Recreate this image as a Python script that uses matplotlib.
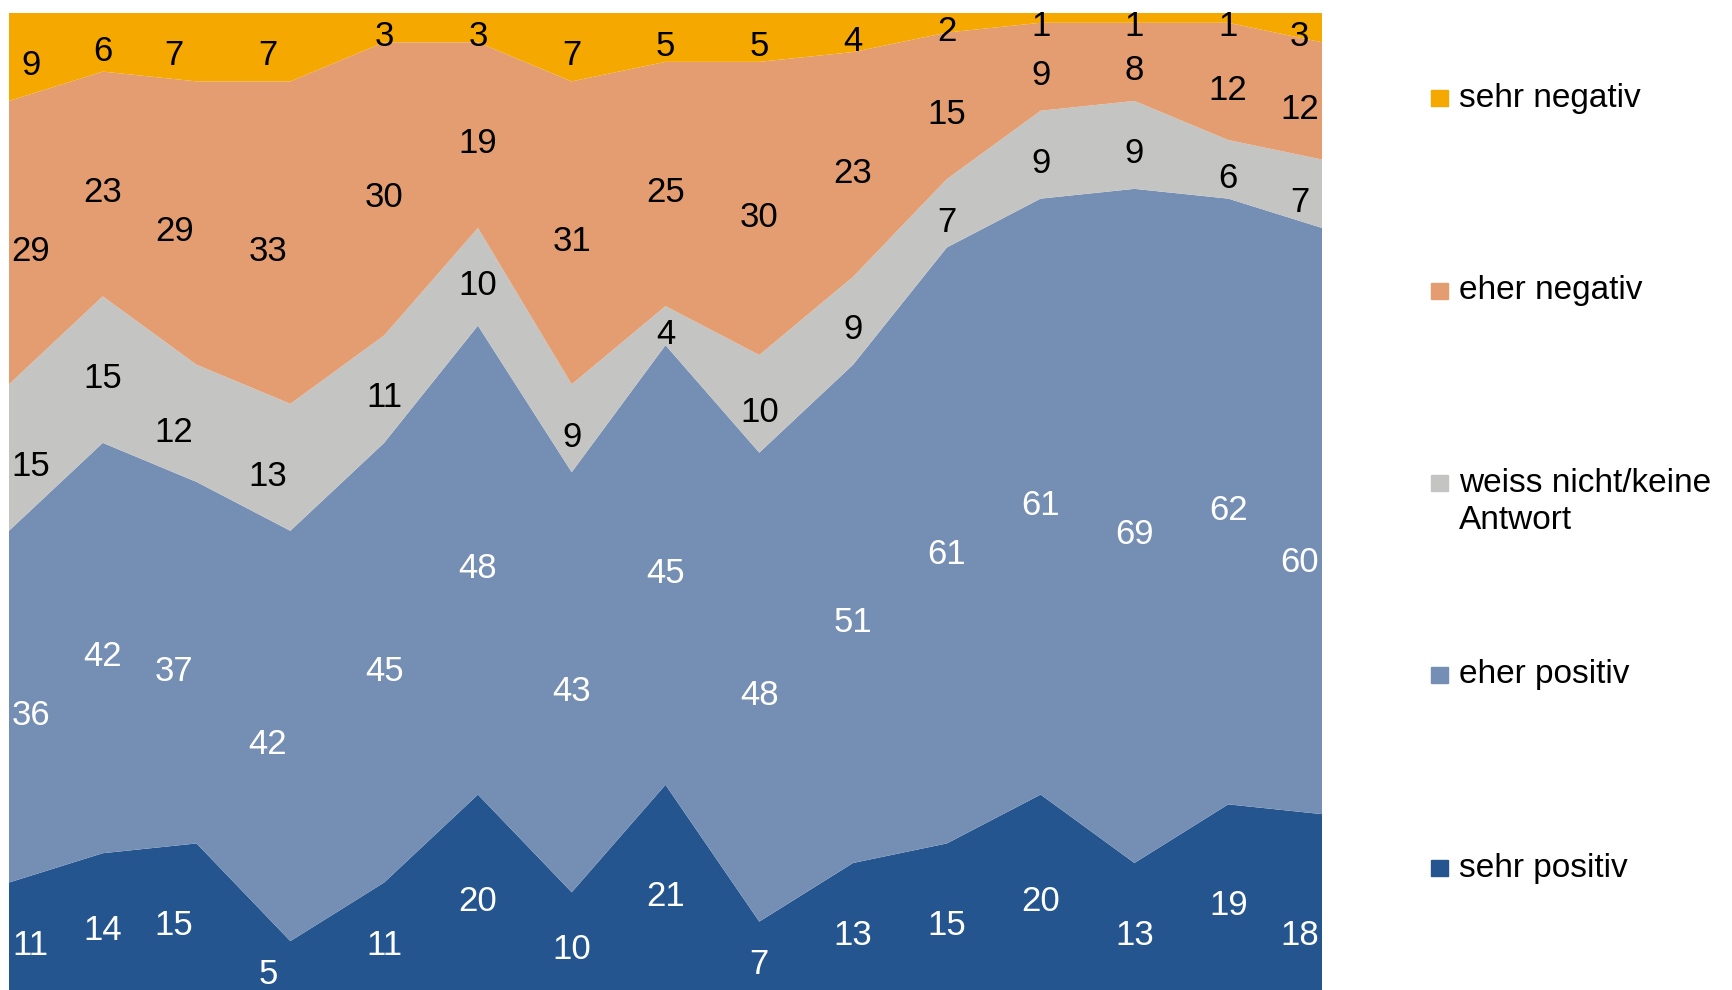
import numpy as np
import matplotlib
matplotlib.use('Agg')
import matplotlib.pyplot as plt
from matplotlib.patches import Rectangle

plt.rcParams['font.family'] = ['Liberation Sans', 'DejaVu Sans']

# Werte je Befragung (in %), von unten nach oben gestapelt
sehr_positiv = [11, 14, 15, 5, 11, 20, 10, 21, 7, 13, 15, 20, 13, 19, 18]
eher_positiv = [36, 42, 37, 42, 45, 48, 43, 45, 48, 51, 61, 61, 69, 62, 60]
weiss_nicht = [15, 15, 12, 13, 11, 10, 9, 4, 10, 9, 7, 9, 9, 6, 7]
eher_negativ = [29, 23, 29, 33, 30, 19, 31, 25, 30, 23, 15, 9, 8, 12, 12]
sehr_negativ = [9, 6, 7, 7, 3, 3, 7, 5, 5, 4, 2, 1, 1, 1, 3]

labels = ['sehr positiv', 'eher positiv', 'weiss nicht/keine\nAntwort',
          'eher negativ', 'sehr negativ']
colors = ['#24558f', '#758eb3', '#c4c4c2', '#e39d70', '#f5a800']
text_colors = ['white', 'white', 'black', 'black', 'black']

series = np.array([sehr_positiv, eher_positiv, weiss_nicht, eher_negativ, sehr_negativ])
x = np.arange(series.shape[1])

fig = plt.figure(figsize=(17.33, 9.9), dpi=100)
ax = fig.add_axes([9 / 1733, 0, 1313 / 1733, 977 / 990])
ax.stackplot(x, series, colors=colors, linewidth=0)
ax.set_xlim(x[0], x[-1])
ax.set_ylim(0, 100)
ax.axis('off')

# Datenbeschriftungen in der Mitte jedes Bandes
# (Rand-Labels nach innen, Punkte 3 und 4 wie im Original leicht nach links)
label_shift = np.zeros(len(x))
label_shift[0] = 0.23
label_shift[2] = -0.24
label_shift[3] = -0.24
label_shift[-1] = -0.24
label_x = x + label_shift
# letzte Spalte: blaue Labels sitzen im Original tiefer
y_fix = {(0, len(x) - 1): -2.5, (1, len(x) - 1): -3.3}

bottom = np.zeros(len(x))
for s, (vals, tc) in enumerate(zip(series, text_colors)):
    for i, v in enumerate(vals):
        yy = bottom[i] + v / 2 - 0.9 + y_fix.get((s, i), 0)
        ax.text(label_x[i], yy, str(v), ha='center', va='center',
                fontsize=25, color=tc)
    bottom += vals

# Legende (oben nach unten)
leg_y = [98, 291, 483, 675, 868]
for lab, col, yy in zip(labels[::-1], colors[::-1], leg_y):
    fig.patches.append(Rectangle((1431 / 1733, 1 - (yy + 8) / 990), 17 / 1733, 16 / 990,
                                 transform=fig.transFigure, color=col))
    if '\n' in lab:
        fig.text(1459 / 1733, 1 - (yy + 19) / 990, lab, ha='left', va='center',
                 fontsize=24, linespacing=1.28)
    else:
        fig.text(1459 / 1733, 1 - yy / 990, lab, ha='left', va='center', fontsize=24)

fig.savefig('out.png', dpi=100)
